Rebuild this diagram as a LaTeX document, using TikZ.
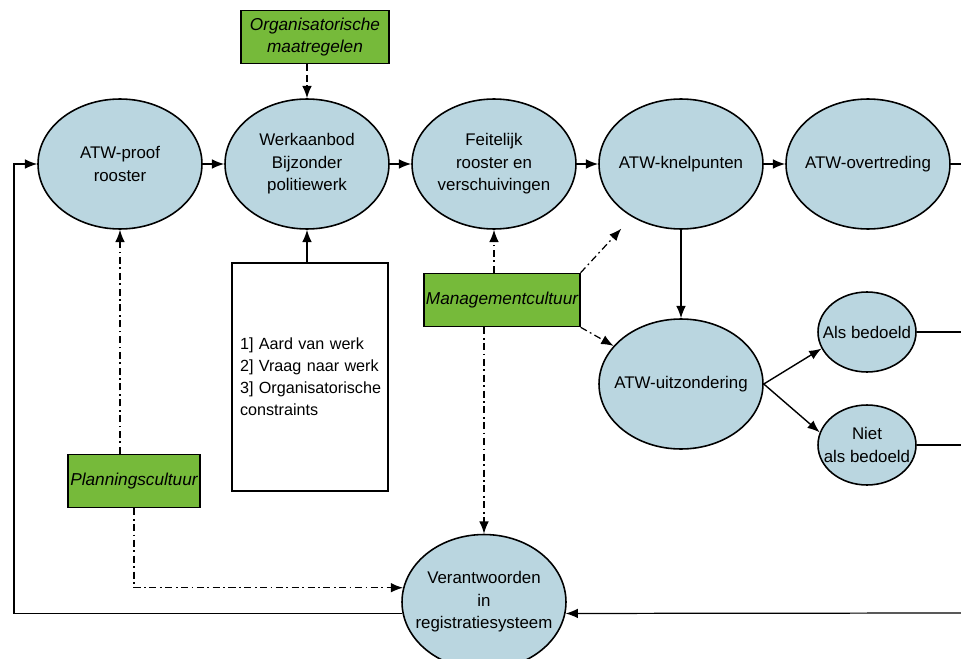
\documentclass[tikz,border=0pt]{standalone}
\usepackage{fontspec}
\setmainfont{Liberation Sans}
\usetikzlibrary{shapes.geometric, arrows.meta}
\definecolor{ellblue}{RGB}{186,214,224}
\definecolor{boxgreen}{RGB}{118,186,58}
\begin{document}
\begin{tikzpicture}[x=0.02cm, y=-0.02cm,
    every node/.style={font=\fontsize{9.6}{12.8}\selectfont},
    ell/.style={ellipse, draw, fill=ellblue, line width=0.9pt, inner sep=-12pt,
        minimum width=3.28cm, minimum height=2.6cm, align=center},
    smallell/.style={ell, minimum width=1.96cm, minimum height=1.6cm},
    greenbox/.style={draw, fill=boxgreen, line width=0.9pt, minimum height=1.06cm,
        inner sep=1pt, align=center, font=\fontsize{9.8}{12.8}\selectfont\itshape},
    flow/.style={-{Latex[length=7pt,width=5.5pt]}, line width=0.8pt},
    dashflow/.style={flow, dash pattern=on 4pt off 2pt},
    dotflow/.style={flow, line width=0.7pt, dash pattern=on 4pt off 2pt on 1pt off 2pt}]
    \useasboundingbox (0,0) rectangle (961,659);

    \node[ell] (proof) at (120,164) {ATW-proof\\rooster};
    \node[ell] (aanbod) at (307,164) {Werkaanbod\\Bijzonder\\politiewerk};
    \node[ell] (feit) at (494,164) {Feitelijk\\rooster en\\verschuivingen};
    \node[ell] (knel) at (681,164) {ATW-knelpunten};
    \node[ell] (overtr) at (868,164) {ATW-overtreding};
    \node[ell] (uitz) at (681,384) {ATW-uitzondering};
    \node[smallell] (als) at (867,332) {Als bedoeld};
    \node[smallell] (niet) at (867,445) {Niet\\als bedoeld};
    \node[ell, minimum height=2.7cm] (verant) at (484,602) {Verantwoorden\\in\\registratiesysteem};

    \node[greenbox, minimum width=2.96cm] (org) at (315,37) {Organisatorische\\maatregelen};
    \node[greenbox, minimum width=2.98cm] (mgmt) at (502,300) {Managementcultuur};
    \node[greenbox, minimum width=2.64cm] (plan) at (134,481) {Planningscultuur};
    \node[draw, line width=0.7pt, minimum height=4.56cm, text width=2.8cm, inner xsep=0.16cm,
        align=left, font=\fontsize{9.2}{12.5}\selectfont] (factors) at (310,377)
        {1] Aard van werk\\2] Vraag naar werk\\\mbox{3]~Organisatorische}\\constraints};

    \coordinate (loop) at (14,164);
    \coordinate (endo) at (961,164);
    \coordinate (enda) at (961,332);
    \coordinate (endn) at (961,445);
    \coordinate (endv) at (961,613);

    \draw[flow] (proof) -- (aanbod);
    \draw[flow] (aanbod) -- (feit);
    \draw[flow] (feit) -- (knel);
    \draw[flow] (knel) -- (overtr);
    \draw[line width=0.7pt] (overtr) -- (endo);
    \draw[flow, line width=0.7pt] (knel) -- (uitz);
    \draw[flow] (uitz.east) -- (als.200);
    \draw[flow] (uitz.east) -- (niet.165);
    \draw[line width=0.7pt] (als) -- (enda);
    \draw[line width=0.7pt] (niet) -- (endn);
    \draw[flow, line width=0.7pt] (endv) -- (verant.352);
    \draw[flow, line width=0.7pt] (verant.188) -| (loop) -- (proof);

    \draw[dashflow] (org.south -| aanbod) -- (aanbod);
    \draw[flow] (factors.north -| aanbod) -- (aanbod);
    \draw[dotflow] (plan.north -| proof) -- (proof);
    \draw[dotflow] (plan.south) |- (verant.170);
    \draw[dotflow] (mgmt.north -| feit) -- (feit);
    \draw[dotflow] (mgmt.south -| verant) -- (verant);
    \draw[dotflow, shorten >=9pt] (mgmt.north east) -- (knel);
    \draw[dotflow] (mgmt.south east) -- (uitz);
\end{tikzpicture}
\end{document}
